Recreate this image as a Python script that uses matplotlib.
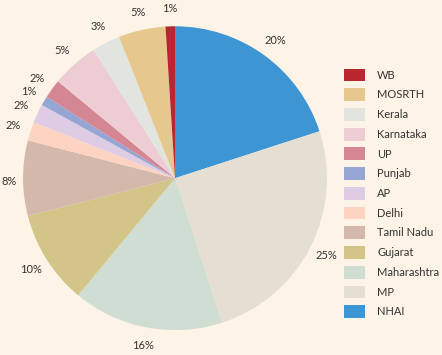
import matplotlib
matplotlib.use("Agg")
import matplotlib.pyplot as plt
from matplotlib.patches import Patch
import numpy as np

categories = ["NHAI", "MP", "Maharashtra", "Gujarat", "Tamil Nadu", "Delhi", "AP",
              "Punjab", "UP", "Karnataka", "Kerala", "MOSRTH", "WB"]
values = [20, 25, 16, 10, 8, 2, 2, 1, 2, 5, 3, 5, 1]
colors = ["#3D95D4", "#E4DED3", "#CFDDD3", "#D3C588", "#D4B8AC", "#FDD3C2", "#DDCCE3",
          "#95A5D4", "#D48692", "#EDCDD3", "#E2E5DF", "#E6C88E", "#B8272F"]

bg = "#FDF3E6"
font = ["Lato", "DejaVu Sans"]
fig = plt.figure(figsize=(4.42, 3.55), dpi=100, facecolor=bg)
ax = fig.add_axes([0.052, 0.07, 0.688, 0.856])
ax.set_facecolor(bg)
wedges, texts = ax.pie(values, colors=colors, startangle=90, counterclock=False,
                       labels=[f"{v}%" for v in values], labeldistance=1.12,
                       textprops=dict(fontsize=8, color="#333333", family=font))
for w, t in zip(wedges, texts):
    t.set_ha("center")
    t.set_va("center")
    ang = np.deg2rad((w.theta1 + w.theta2) / 2)
    if abs(np.cos(ang)) > 0.98:
        t.set_position((1.09 * np.cos(ang), 1.09 * np.sin(ang) - 0.02))
ax.set_xlim(-1, 1)
ax.set_ylim(-1, 1)
ax.set_aspect("equal")
ax.axis("off")

handles = [Patch(facecolor=c, edgecolor="none") for c in colors][::-1]
labs = categories[::-1]
fig.legend(handles, labs, loc="upper left", bbox_to_anchor=(0.755, 0.835),
           frameon=False, handlelength=1.9, handleheight=1.4,
           labelspacing=0.62, handletextpad=1.1,
           prop=dict(family=font, size=8), labelcolor="#333333")
fig.savefig("out.png", dpi=100, facecolor=bg)
